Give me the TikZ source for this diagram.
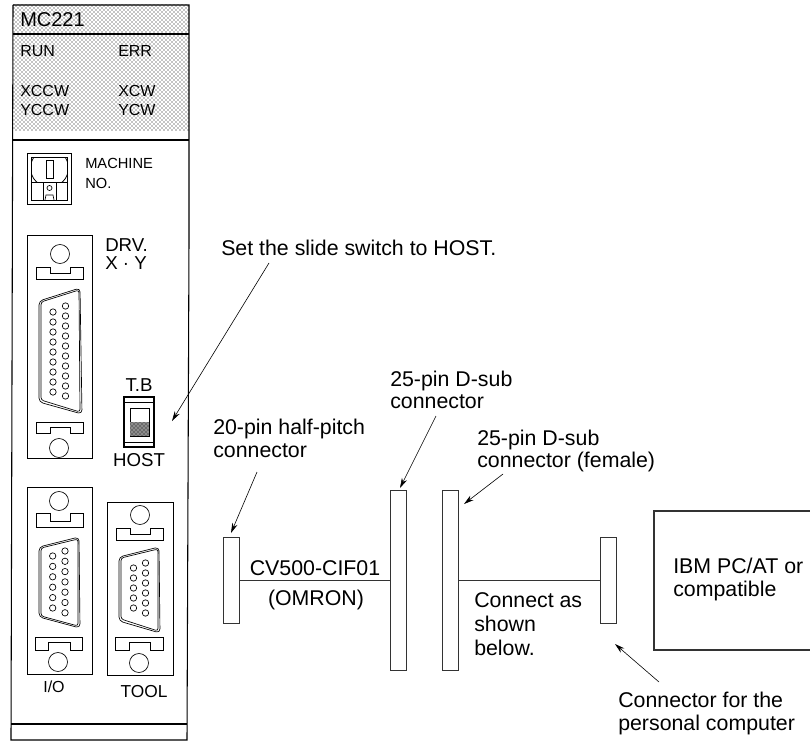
\documentclass[tikz,border=0pt]{standalone}
\usepackage{fontspec}
\setmainfont{Liberation Sans}
\usetikzlibrary{arrows.meta,patterns}
\tikzset{
  unitline/.style={black, line width=0.8pt},
  thinpart/.style={black, line width=0.6pt},
  pinhole/.style={black, line width=0.5pt},
  connbar/.style={draw=black!80, line width=0.8pt, fill=white, inner sep=0pt, minimum width=12pt, anchor=north west},
  cableline/.style={black!80, line width=0.6pt},
  callout/.style={black, line width=0.45pt, -{Stealth[length=7.5pt,width=4.2pt]}},
  notetext/.style={font=\fontsize{16}{17}\selectfont, align=left, anchor=west, inner sep=0pt},
  paneltext/.style={font=\fontsize{12}{13}\selectfont, anchor=west, inner sep=0pt},
  bigpaneltext/.style={paneltext, font=\fontsize{14}{15}\selectfont}
}
\begin{document}
\begin{tikzpicture}[x=0.75pt,y=-0.75pt]
\useasboundingbox (0,0) rectangle (810,742);

% upper shaded part of the unit
\fill[pattern=crosshatch dots, pattern color=black] (13,5) rectangle (189,130);
\draw[unitline] (13,5) -- (189,5) -- (189,240) -- (187,740) -- (11,740) -- (13,5);
\draw[unitline] (13,34) -- (189,34);
\draw[unitline] (13,140) -- (189,140);
\draw[unitline] (11,724) -- (187,724);

\node[bigpaneltext, font=\fontsize{15}{16}\selectfont] (mcname) at (20,20) {MC221};
\node[paneltext] (runled) at (20,51) {RUN};
\node[paneltext] (errled) at (118,51) {ERR};
\node[paneltext] (xccwled) at (20,91) {XCCW};
\node[paneltext] (xcwled) at (118,91) {XCW};
\node[paneltext] (yccwled) at (20,110) {YCCW};
\node[paneltext] (ycwled) at (118,110) {YCW};

% machine no. dial
\draw[thinpart] (27,153) rectangle (71,204);
\draw[thinpart] (31,157) rectangle (67,200);
\begin{scope}
\clip (31,157) rectangle (67,182);
\draw[thinpart] (49.5,168) circle (19);
\end{scope}
\draw[thinpart] (46,160) rectangle (53,178);
\draw[thinpart] (31,182) -- (67,182);
\draw[thinpart] (43,182) -- (43,200);
\draw[thinpart] (56,182) -- (56,200);
\draw[pinhole] (49.5,188) circle (2.5);
\draw[pinhole] (45,200) -- (46,195) -- (53,195) -- (54,200);
\node[paneltext, font=\fontsize{11}{12}\selectfont] (machtext) at (85,163) {MACHINE};
\node[paneltext, font=\fontsize{11}{12}\selectfont] (notext) at (85,183) {NO.};

% DRV connector
\draw[thinpart] (27,235) rectangle (92,458);
\draw[pinhole] (60,254) circle (9.5);
\draw[thinpart] (36,267) -- (50,267) -- (50,273) -- (70,273) -- (70,267) -- (83,267) -- (83,279) -- (36,279) -- cycle;
\draw[thinpart] (36,422) -- (83,422) -- (83,433) -- (70,433) -- (70,427) -- (50,427) -- (50,433) -- (36,433) -- cycle;
\draw[pinhole] (59,448) circle (9.5);
\draw[pinhole, rounded corners=3pt] (39,301) -- (80,288) -- (82,414) -- (39,402) -- cycle;
\draw[pinhole, rounded corners=2pt] (41,302) -- (79,290) -- (80,412) -- (41,400) -- cycle;
\foreach \n in {0,...,8} \draw[pinhole] (53,312+10*\n) circle (3.2);
\foreach \n in {0,...,9} \draw[pinhole] (65.5,306+10*\n) circle (3.2);
\node[bigpaneltext] (drvtext) at (105,245) {DRV.};
\node[bigpaneltext] (xytext) at (105,263) {X · Y};

% slide switch
\node[bigpaneltext, anchor=center] (tbtext) at (139,385) {T.B};
\draw[unitline] (124,397) rectangle (154,447);
\draw[pinhole] (124,402) -- (154,402);
\draw[pinhole] (124,442) -- (154,442);
\draw[thinpart] (130,408) rectangle (149,436);
\fill[black!45] (130,422) rectangle (149,436);
\fill[pattern=crosshatch dots, pattern color=black] (130,422) rectangle (149,436);
\node[bigpaneltext, anchor=center] (hosttext) at (139,460) {HOST};

% I/O connector
\draw[thinpart] (27,487) rectangle (92,674);
\draw[pinhole] (59,501) circle (9.5);
\draw[thinpart] (36,513) -- (50,513) -- (50,521) -- (70,521) -- (70,513) -- (83,513) -- (83,527) -- (36,527) -- cycle;
\draw[thinpart] (35,637) -- (82,637) -- (82,650) -- (70,650) -- (70,642) -- (48,642) -- (48,650) -- (35,650) -- cycle;
\draw[pinhole] (58,662) circle (9.5);
\draw[pinhole, rounded corners=3pt] (39,547) -- (79,537) -- (80,628) -- (39,617) -- cycle;
\draw[pinhole, rounded corners=2pt] (41,548) -- (78,539) -- (78,626) -- (41,616) -- cycle;
\foreach \n in {0,...,5} \draw[pinhole] (52.7,556+10.4*\n) circle (3.2);
\foreach \n in {0,...,6} \draw[pinhole] (65,551+10.3*\n) circle (3.2);
\node[paneltext, anchor=center] (iotext) at (54,687) {I/O};

% TOOL connector
\draw[thinpart] (107,502) rectangle (173,675);
\draw[pinhole] (140,515) circle (9.5);
\draw[thinpart] (116,528) -- (130,528) -- (130,534) -- (150,534) -- (150,528) -- (163,528) -- (163,540) -- (116,540) -- cycle;
\draw[thinpart] (115,637) -- (163,637) -- (163,650) -- (150,650) -- (150,642) -- (129,642) -- (129,650) -- (115,650) -- cycle;
\draw[pinhole] (139,663) circle (9.5);
\draw[pinhole, rounded corners=3pt] (119,557) -- (159,547) -- (160,633) -- (119,621) -- cycle;
\draw[pinhole, rounded corners=2pt] (121,558) -- (158,549) -- (158,631) -- (121,619) -- cycle;
\foreach \n in {0,...,4} \draw[pinhole] (133.5,568+10*\n) circle (3.2);
\foreach \n in {0,...,5} \draw[pinhole] (145.5,563+10*\n) circle (3.2);
\node[paneltext, anchor=center, font=\fontsize{13}{14}\selectfont] (tooltext) at (144,692) {TOOL};

% connectors and cable
\node[connbar, minimum height=64.5pt] (halfpitch) at (223,537) {};
\node[connbar, minimum height=135pt] (dsubmale) at (390,490) {};
\node[connbar, minimum height=135pt] (dsubfemale) at (441.5,490) {};
\node[connbar, minimum height=64.5pt] (pcconn) at (600,537) {};
\draw[cableline] (halfpitch.east) -- (dsubmale.west);
\draw[cableline] (dsubfemale.east) -- (pcconn.west);

% computer, open on the right
\coordinate (pctopright) at (810,511);
\coordinate (pctopleft) at (654,511);
\coordinate (pcbotleft) at (654,650);
\coordinate (pcbotright) at (810,650);
\draw[draw=black!80, line width=0.8pt] (pctopright) -- (pctopleft) -- (pcbotleft) -- (pcbotright);

% labels
\node[notetext] (switchnote) at (221,248) {Set the slide switch to HOST.};
\node[notetext] (halfnote) at (213,438.5) {20-pin half-pitch\\connector};
\node[notetext] (malenote) at (390,390) {25-pin D-sub\\connector};
\node[notetext] (femalenote) at (477,451) {25-pin D-sub\\connector (female)};
\node[notetext, anchor=center] (cablename) at (315,568) {CV500-CIF01};
\node[notetext, anchor=center] (makername) at (316,600) {(OMRON)};
\node[notetext, font=\fontsize{16}{18}\selectfont] (wirenote) at (474,624) {Connect as\\shown\\below.};
\node[notetext] (pcname) at (673,579.5) {IBM PC/AT or\\compatible};
\node[notetext] (pcnote) at (618,713.5) {Connector for the\\personal computer};

% arrows
\coordinate (switchtail) at (269,263);
\coordinate (switchtip) at (172,421);
\coordinate (halftail) at (257,472);
\coordinate (halftip) at (231,533);
\coordinate (maletail) at (436,416);
\coordinate (maletip) at (400,488);
\coordinate (femaletail) at (503,474);
\coordinate (femaletip) at (464,504);
\coordinate (pctail) at (659,682);
\coordinate (pctip) at (615,644);
\draw[callout] (switchtail) -- (switchtip);
\draw[callout] (halftail) -- (halftip);
\draw[callout] (maletail) -- (maletip);
\draw[callout] (femaletail) -- (femaletip);
\draw[callout] (pctail) -- (pctip);

\end{tikzpicture}
\end{document}
